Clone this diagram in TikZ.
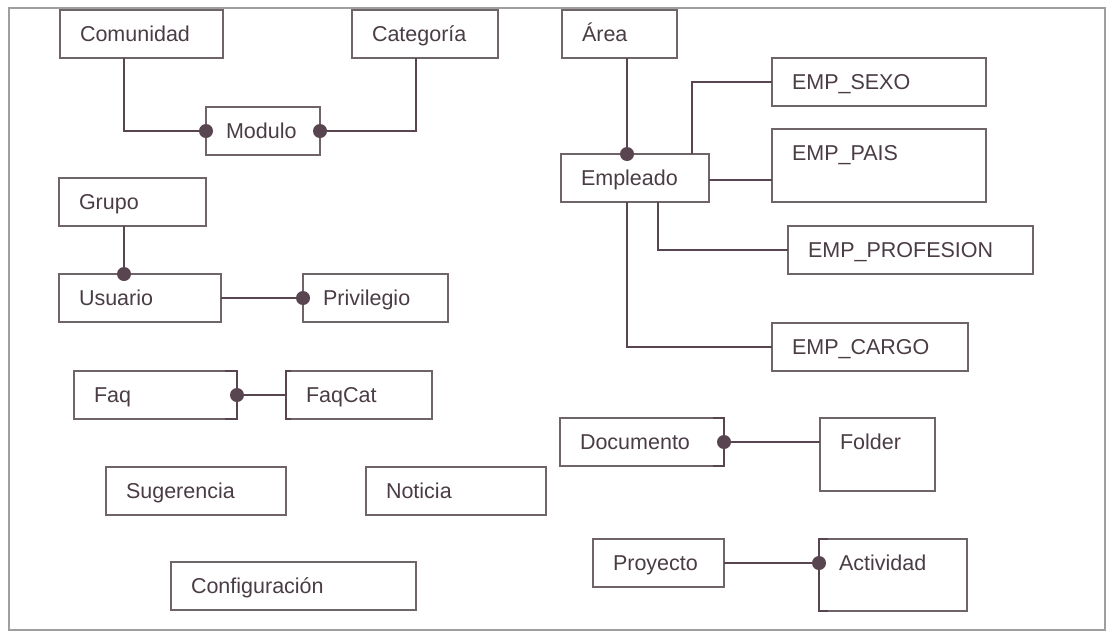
\documentclass[tikz,border=0pt]{standalone}
\usepackage{fontspec}
\setmainfont{Liberation Sans}
\definecolor{boxc}{HTML}{6E6469}
\definecolor{lnc}{HTML}{584550}
\definecolor{txtc}{HTML}{4A3C45}
\begin{document}
\begin{tikzpicture}[x=1pt, y=-1pt,
  ent/.style={draw=boxc, line width=1.8pt, anchor=north west, outer sep=0pt,
    inner xsep=20pt, inner ysep=16.25pt, text height=15.5pt, text depth=0pt,
    align=left, text=txtc, font=\fontsize{21.5}{24}\selectfont},
  tall/.style={text depth=#1},
  conn/.style={draw=lnc, line width=1.6pt},
  brk/.style={draw=lnc, line width=1.8pt}]
\useasboundingbox (0,0) rectangle (1116,635);
\draw[gray!75, line width=1.5pt] (9,8) rectangle (1105,630);
\node[ent, text width=123pt] (comunidad) at (60,10) {Comunidad};
\node[ent, text width=106pt] (categoria) at (352,10) {Categoría};
\node[ent, text width=74pt] (modulo) at (206,107) {Modulo};
\node[ent, text width=107pt] (grupo) at (59,178) {Grupo};
\node[ent, text width=122pt] (usuario) at (59,274) {Usuario};
\node[ent, text width=105pt] (privilegio) at (303,274) {Privilegio};
\node[ent, text width=123pt] (faq) at (74,371) {Faq};
\node[ent, text width=106pt] (faqcat) at (286,371) {FaqCat};
\node[ent, text width=140pt] (sugerencia) at (106,467) {Sugerencia};
\node[ent, text width=140pt] (noticia) at (366,467) {Noticia};
\node[ent, text width=205pt] (configuracion) at (171,562) {Configuración};
\node[ent, text width=75pt] (area) at (562,10) {Área};
\node[ent, text width=108pt] (empleado) at (561,154) {Empleado};
\node[ent, text width=174pt] (sexo) at (772,58) {EMP\_SEXO};
\node[ent, text width=174pt, tall=25pt] (pais) at (772,129) {EMP\_PAIS};
\node[ent, text width=205pt] (profesion) at (788,226) {EMP\_PROFESION};
\node[ent, text width=156pt] (cargo) at (772,323) {EMP\_CARGO};
\node[ent, text width=124pt] (documento) at (560,418) {Documento};
\node[ent, text width=75pt, tall=25pt] (folder) at (820,418) {Folder};
\node[ent, text width=91pt] (proyecto) at (593,539) {Proyecto};
\node[ent, text width=108pt, tall=24pt] (actividad) at (819,539) {Actividad};

\draw[conn] ([xshift=64pt]comunidad.south west) |- (modulo.west);
\draw[conn] ([xshift=64pt]categoria.south west) |- (modulo.east);
\fill[lnc] (modulo.west) circle (7pt) (modulo.east) circle (7pt);

\coordinate (ug) at ([xshift=65pt]usuario.north west);
\draw[conn] (grupo.south -| ug) -- (ug);
\draw[conn] (usuario.east) -- (privilegio.west);
\fill[lnc] (ug) circle (7pt) (privilegio.west) circle (7pt);

\draw[brk] ([xshift=-12pt]faq.north east) -- (faq.north east) -- (faq.south east) -- ([xshift=-12pt]faq.south east);
\draw[brk] ([xshift=5pt]faqcat.north west) -- (faqcat.north west) -- (faqcat.south west) -- ([xshift=5pt]faqcat.south west);
\draw[conn] (faq.east) -- (faqcat.west);
\fill[lnc] (faq.east) circle (7pt);

\coordinate (ea) at ([xshift=66pt]empleado.north west);
\draw[conn] (area.south -| ea) -- (ea);
\fill[lnc] (ea) circle (7pt);
\draw[conn] ([xshift=131pt]empleado.north west) |- (sexo.west);
\draw[conn] ([yshift=-2pt]empleado.east) -- ([yshift=-2pt]empleado.east -| pais.west);
\draw[conn] ([xshift=97pt]empleado.south west) |- (profesion.west);
\draw[conn] (empleado.south -| ea) |- (cargo.west);

\draw[brk] ([xshift=-11pt]documento.north east) -- (documento.north east) -- (documento.south east) -- ([xshift=-11pt]documento.south east);
\draw[conn] (documento.east) -- (documento.east -| folder.west);
\fill[lnc] (documento.east) circle (7pt);

\draw[brk] ([xshift=9pt]actividad.north west) -- (actividad.north west) -- (actividad.south west) -- ([xshift=9pt]actividad.south west);
\draw[conn] (proyecto.east) -- (proyecto.east -| actividad.west);
\fill[lnc] (proyecto.east -| actividad.west) circle (7pt);
\end{tikzpicture}
\end{document}
